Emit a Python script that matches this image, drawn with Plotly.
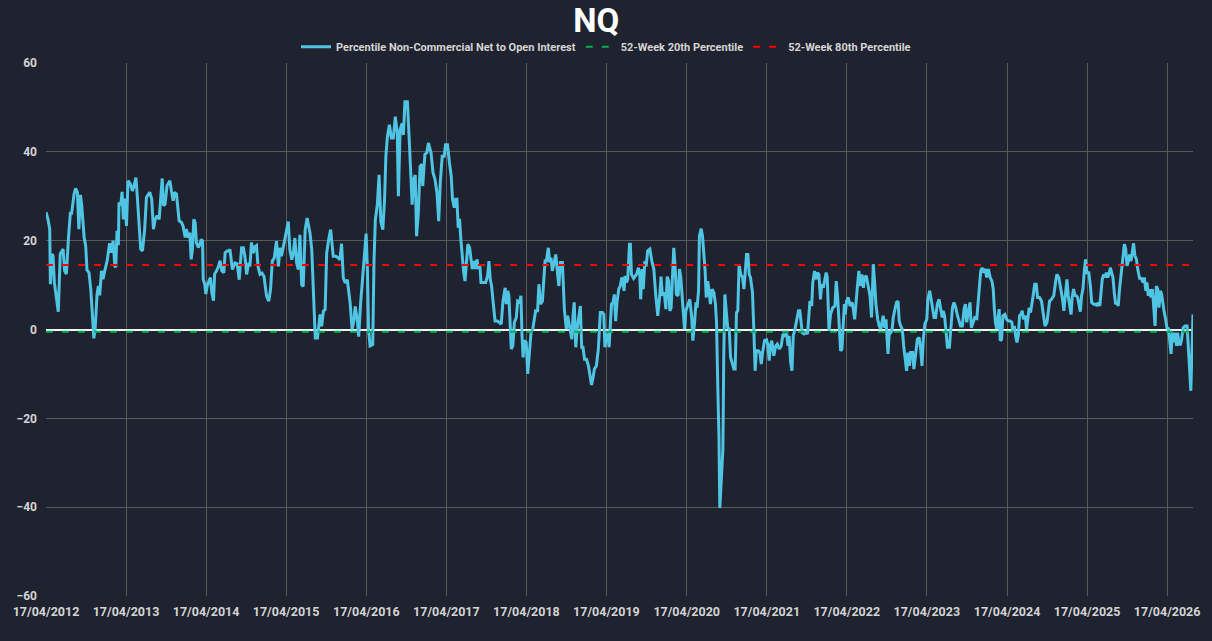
import numpy as np
import pandas as pd
import plotly.graph_objects as go

# weekly COT series, x = weeks since first report
start_date = "2012-04-17"

weeks = [
    0, 1.3, 2.4, 2.8, 3.9, 4.6, 5.4, 6.7, 8.0, 9.3, 11.1, 12.2, 13.3, 14.6, 15.9, 16.7,
    18.3, 19.3, 20.4, 21.5, 22.4, 23.3, 24.8, 25.9, 26.7, 28.0, 29.1, 30.2, 31.1, 32.0,
    33.3, 34.1, 35.0, 36.1, 37.2, 38.3, 39.8, 41.5, 42.6, 43.7, 44.8, 45.4, 46.3, 47.2,
    47.6, 48.7, 49.6, 50.4, 51.3, 52.4, 53.5, 55.0, 56.3, 57.4, 58.5, 59.3, 60.7, 61.7,
    62.8, 64.3, 65.4, 67.6, 68.9, 70.0, 71.1, 72.4, 73.7, 74.8, 75.7, 76.5, 77.6, 78.9,
    80.7, 81.7, 82.8, 83.7, 85.0, 86.7, 88.3, 89.3, 90.7, 91.5, 92.8, 93.7, 94.6, 95.4,
    96.3, 97.2, 98.0, 99.1, 100.2, 101.1, 102.0, 102.4, 103.5, 104.1, 105.0, 106.3,
    107.2, 108.0, 109.1, 109.8, 111.1, 112.4, 113.5, 114.6, 115.9, 116.7, 118.0, 119.1,
    119.8, 121.5, 123.1, 124.6, 125.9, 127.4, 128.5, 129.6, 130.7, 132.0, 132.8, 133.9,
    135.0, 136.3, 137.2, 138.1, 139.4, 140.7, 142.0, 143.7, 145.2, 146.3, 147.4, 148.7,
    150.2, 151.5, 152.4, 153.5, 154.6, 156.3, 157.8, 158.9, 160.2, 161.1, 162.2, 163.3,
    164.4, 165.5, 166.5, 167.6, 168.9, 170.2, 172.0, 173.1, 174.1, 175.5, 176.8, 178.5,
    179.6, 180.7, 181.8, 182.8, 184.1, 185.5, 187.2, 188.9, 190.5, 191.5, 192.6, 193.7,
    194.8, 196.3, 198.1, 199.4, 200.7, 201.5, 202.8, 203.7, 205.0, 206.8, 207.8, 208.5,
    209.4, 210.2, 211.1, 212.8, 213.7, 214.6, 215.9, 217.0, 218.1, 219.4, 220.5, 221.5,
    222.4, 223.7, 225.0, 226.3, 227.6, 228.9, 229.6, 230.7, 232.0, 232.8, 233.9, 235.5,
    236.8, 237.6, 238.5, 239.4, 240.5, 241.5, 242.6, 243.7,
    244.9, 245.5, 246.8, 248.1, 249.2, 250.8, 252.1, 253.4, 254.7, 255.8, 256.8, 258.1,
    259.5, 260.3, 261.6, 262.9, 264.0, 264.9, 266.0, 266.8, 267.7, 268.6, 269.5, 270.3,
    271.2, 272.1, 273.0, 273.8, 274.9, 276.0, 276.8, 277.7, 279.0, 279.9, 280.8, 281.6,
    282.5, 283.4, 285.1, 286.4, 287.7, 288.6, 289.5, 290.3, 291.6, 292.5, 294.2, 295.5,
    296.6, 297.7, 299.2, 299.9, 300.8, 301.6, 302.5, 303.1, 304.2, 305.1, 306.4, 307.3,
    308.6, 309.5, 310.1, 310.8, 311.6, 312.9, 313.8, 314.9, 316.0, 317.1, 318.1, 319.0,
    320.3, 321.2, 322.1, 323.4, 324.2, 325.1, 326.0, 327.3, 328.2, 329.0, 329.9, 330.8,
    332.1, 333.4, 334.2, 335.1, 336.4, 337.7, 339.0, 339.9, 341.2, 342.5, 343.4, 344.2,
    345.1, 346.0, 347.3, 348.1, 349.0, 349.9, 350.8, 352.1, 353.4, 354.7, 355.5, 356.4,
    357.3, 358.6, 359.9, 361.2, 362.5, 363.4, 364.2, 365.1, 366.0, 366.8,
    368.4, 369.4, 370.3, 371.2, 372.0, 373.1, 374.2, 375.1, 376.0, 376.6, 377.3, 378.1,
    379.0, 380.1, 380.7, 381.4, 382.9, 384.7, 386.0, 386.8, 387.5, 388.4, 389.2, 390.1,
    391.0, 392.0, 393.4, 394.7, 396.0, 397.3, 398.6, 399.9, 400.7, 401.6, 402.9, 403.8,
    404.7, 405.7, 406.4, 407.3, 408.1, 409.0, 409.9, 410.7, 411.8, 412.7, 413.6, 414.4,
    415.1, 416.0, 416.8, 418.1, 419.4, 420.7, 421.4, 422.5, 423.4, 424.2, 425.1, 425.7,
    426.8, 427.7, 428.6, 429.4, 430.1, 431.2, 432.0, 432.9, 434.0, 435.1, 436.2, 436.8,
    437.7, 438.4, 439.0, 439.9, 441.0, 441.6, 442.3, 443.4, 444.2, 445.1, 446.0, 447.3,
    448.1, 449.0, 449.9, 450.7, 451.6, 452.5, 453.8, 454.7, 455.5, 456.4, 457.3, 458.1,
    459.0, 460.3, 461.2, 462.0, 462.9, 464.2, 465.1, 466.0, 466.8, 468.1, 469.4, 470.3,
    471.2, 472.0, 472.9, 474.2, 475.5, 476.4, 477.7, 479.0, 480.1, 481.2, 482.5, 483.4,
    484.2, 485.1, 486.0, 486.8, 487.7, 489.0, 490.3, 491.2,
    492.7, 493.8, 495.1, 496.2, 497.0, 497.7, 498.8, 499.6, 500.7, 501.6, 502.5, 503.6,
    504.6, 505.5, 506.4, 507.3, 508.3, 509.0, 510.1, 511.2, 512.5, 514.0, 514.9, 515.9,
    516.8, 517.7, 518.6, 519.4, 520.1, 520.7, 521.6, 522.7, 523.8, 525.1, 525.9, 526.8,
    527.7, 528.6, 529.6, 530.7, 531.6, 532.5, 533.3, 534.4, 535.5, 536.8, 537.9, 539.0,
    539.9, 540.7, 541.8, 542.9, 543.8, 544.6, 545.5, 546.4, 547.3, 547.9, 548.6, 549.4,
    550.3, 551.2, 552.0, 553.1, 554.2, 555.1, 555.9, 556.8, 557.9, 559.0, 559.9, 560.7,
    561.6, 562.5, 563.3, 564.6, 565.5, 566.6, 567.7, 568.8, 569.9, 570.7, 571.6, 572.5,
    573.8, 574.6, 575.7, 576.8, 577.7, 578.6, 579.6, 580.7, 581.8, 582.9, 583.8, 584.6,
    585.5, 586.4, 587.3, 588.6, 589.4, 590.5, 591.6, 592.7, 593.8, 594.9, 595.9, 597.0,
    598.1, 599.0, 599.9, 600.9, 602.0, 602.9, 604.2, 605.1, 606.4, 607.7, 609.0, 609.9,
    610.7, 612.0, 612.9, 614.0, 615.1,
    616.3, 617.1, 617.8, 618.6, 619.5, 620.4, 621.0, 621.7, 622.6, 623.4, 624.7, 625.8,
    626.9, 628.2, 629.3, 629.9, 630.8, 631.7, 632.6, 633.4, 634.3, 635.2, 636.0, 636.9,
    638.0, 638.9, 639.7, 640.6, 641.5, 642.3, 643.2, 644.1, 645.2, 646.0, 647.3, 648.6,
    649.9, 650.8, 652.1, 653.0, 653.9, 655.2, 656.5, 657.8, 658.6, 659.9, 661.3, 662.3,
    663.2, 664.3, 665.2, 666.0, 666.9, 667.8, 668.6, 669.5, 670.4, 671.3, 672.1, 673.2,
    673.9, 674.7, 675.6, 676.5, 677.3, 678.2, 679.5, 680.4, 681.3, 682.6, 683.9, 684.7,
    685.6, 686.5, 687.3, 688.2, 689.1, 689.9, 690.8, 691.7, 692.6, 693.4, 694.3, 695.2,
    696.0, 696.9, 697.8, 698.6, 699.5, 700.4, 701.3, 702.6, 703.4, 704.3, 705.2, 706.0,
    706.9, 707.8, 708.6, 709.5, 710.4, 711.3, 712.6, 713.4, 714.7, 715.6, 716.5, 717.3,
    718.2, 719.1, 719.9, 720.8, 721.7, 722.6, 723.4, 724.3, 725.2, 726.0, 726.9, 727.8,
    728.6, 729.5, 730.4, 731.3, 732.1, 733.0, 733.9, 734.7, 735.6, 736.5, 737.3, 738.2,
    739.1, 739.9, 740.8, 742.1, 743.4, 744.3, 745.2, 745.8, 746.7, 747.3,
]

net_oi_pct = [
    26.4, 24.8, 22.6, 10.2, 17.0, 16.6, 10.6, 7.6, 4.0, 17.0, 18.1, 13.2, 12.5, 20.3, 26.2, 26.2,
    30.5, 31.8, 30.9, 22.6, 30.3, 27.9, 20.7, 18.8, 13.4, 12.8, 9.1, 3.8, -2.0, 0.1,
    8.0, 9.8, 7.7, 13.2, 11.3, 13.2, 15.5, 19.4, 17.3, 20.0, 14.3, 14.0, 22.2, 19.0,
    28.6, 28.0, 31.0, 24.8, 29.5, 23.3, 33.5, 32.7, 31.2, 32.4, 34.2, 30.9, 21.8, 18.1,
    17.7, 22.6, 29.7, 30.9, 29.4, 22.6, 24.8, 25.6, 24.8, 29.7, 34.0, 27.9, 28.2, 32.4,
    33.5, 31.2, 29.0, 30.9, 30.5, 24.5, 24.1, 23.3, 20.7, 22.6, 20.7, 21.8, 15.8, 18.1,
    24.8, 24.1, 19.6, 18.5, 19.0, 20.3, 19.9, 11.3, 10.2, 8.0, 9.8, 11.0,
    11.7, 8.3, 6.5, 12.5, 13.2, 14.3, 15.5, 13.2, 12.8, 17.3, 17.7, 17.7,
    18.0, 13.5, 15.0, 14.8, 11.2, 18.4, 18.4, 16.5, 12.4, 15.0, 14.2, 19.6,
    17.2, 18.7, 18.9, 14.2, 12.4, 12.7, 12.0, 7.5, 6.4, 9.0, 15.4, 16.1,
    19.9, 14.2, 18.4, 16.5, 18.4, 21.0, 24.3, 18.0, 15.7, 17.2, 20.6, 15.0,
    13.5, 21.3, 10.1, 9.7, 22.5, 25.1, 21.7, 18.0, 9.4, -1.9, -1.9, 3.4,
    0.7, 4.1, 4.5, 17.2, 20.2, 22.5, 16.5, 16.5, 16.1, 15.7, 19.3, 11.6,
    10.5, 11.2, 6.0, 0.0, 2.2, 5.2, 2.2, -1.6, 6.0, 13.5, 18.7, 21.6,
    13.1, 0.0, -3.7, -3.4, 15.7, 24.7, 28.1, 34.8, 24.3, 22.5, 29.2, 39.0,
    43.4, 46.1, 43.1, 43.1, 47.9, 44.2, 30.0, 45.0, 46.4, 43.8, 51.3, 51.3,
    41.2, 36.0, 28.1, 33.7, 34.8, 21.0, 26.2, 36.7,
    37.2, 32.3, 39.4, 39.8, 42.0, 39.8, 35.3, 33.8, 30.8, 24.4, 33.0, 39.0,
    39.0, 41.6, 41.6, 37.5, 34.5, 29.3, 27.4, 29.3, 29.3, 22.9, 24.9, 20.3,
    15.8, 12.8, 10.9, 15.4, 19.2, 18.4, 15.4, 13.6, 15.4, 13.6, 15.8, 13.6,
    14.7, 10.6, 10.6, 10.6, 12.1, 15.4, 11.3, 9.8, 5.3, 1.9, 1.9, 1.6,
    1.2, 6.4, 9.4, 5.7, 8.7, 7.6, -0.7, -4.4, -3.7, 1.6, 2.7, 6.4,
    6.1, 7.6, -1.4, -6.3, -2.5, -2.9, -10.0, -4.4, -0.7, 0.1, 2.3, 4.2,
    4.2, 10.2, 5.7, 6.4, 10.2, 15.4, 15.4, 18.4, 15.1, 16.2, 13.2, 15.1,
    16.9, 12.1, 9.8, 15.1, 15.1, 4.6, 0.1, 3.1, 0.1, -2.2, 3.4, 6.1,
    -4.0, 0.1, 3.1, 5.3, -4.0, -4.0, -6.7, -6.7, -8.2, -11.5, -12.5, -10.8,
    -8.9, -8.2, -4.4, 3.8, 3.8, 3.4, -4.0, -1.4, -1.0, -4.0,
    5.7, 6.1, 7.9, 1.9, 6.1, 9.1, 9.8, 11.7, 10.9, 8.7, 12.1, 10.6,
    11.3, 19.2, 19.2, 12.4, 11.5, 12.4, 13.9, 12.1, 6.8, 13.6, 9.1, 15.4,
    14.2, 17.7, 18.1, 15.4, 13.6, 7.6, 3.1, 7.6, 11.9, 7.6, 8.3, 4.6,
    11.9, 10.9, 4.2, 4.9, 12.1, 18.4, 14.3, 7.9, 7.6, 13.6, 11.7, 7.6,
    4.9, 0.1, 4.2, 5.7, 6.8, 2.7, -2.5, 1.6, 6.1, 4.9, 8.7, 21.0,
    22.7, 21.0, 16.9, 13.2, 7.2, 10.9, 8.7, 5.7, 9.1, 8.3, 5.7, 1.6,
    -13.4, -23.9, -40.2, -33.6, -26.9, -5.9, 7.9, 3.1, 0.4, 0.1, -6.3, -7.8,
    -8.9, -8.9, 3.8, 4.2, 14.7, 12.4, 11.7, 9.1, 12.4, 16.9, 16.9, 12.4,
    11.7, 8.3, 0.1, -9.3, -4.8, -4.8, -5.2, -7.8, -5.2, -2.5, -2.3, -3.3,
    -7.0, -3.7, -2.5, -5.9, -3.7, -3.3, -4.4, -3.7, -1.0, -1.4, -1.0, -3.7,
    -1.4, -7.4, -9.3, -1.4, -0.3, 2.3, 4.2, 4.2,
    -0.7, -1.0, -0.7, -1.0, 3.1, 6.4, 5.3, 10.6, 13.2, 11.3, 12.8, 12.4,
    6.8, 10.2, 9.4, 10.9, 12.8, 11.7, -0.3, 3.4, 4.9, 5.3, 10.9, 6.8,
    -0.7, -4.8, -4.4, 0.8, 5.7, 3.4, 6.4, 7.2, 5.3, 6.1, 4.9, 2.3,
    7.2, 9.4, 13.2, 9.8, 12.4, 9.4, 11.7, 12.1, 10.2, 7.6, 2.7, 14.7,
    10.6, 5.7, 2.3, 0.8, 0.1, 1.6, 3.1, 0.4, 2.3, -1.4, -5.5, -0.3,
    -0.7, -0.3, 2.7, 4.6, 6.1, 6.4, 1.9, 0.8, 0.1, -4.4, -7.4, -9.3,
    -5.2, -8.2, -5.2, -5.2, -8.9, -5.2, -2.2, -1.8, -4.4, -8.2, -2.2, 1.2,
    2.3, 6.8, 8.7, 6.4, 4.2, 2.7, 2.7, 5.7, 6.8, 4.9, 2.7, 4.2,
    3.1, -0.7, -4.0, -4.0, 0.8, 4.9, 6.1, 4.9, 3.1, 1.6, 0.8, 0.8,
    4.6, 5.7, 1.6, 3.8, 6.1, 0.4, 1.6, 2.7, 2.5, 7.6, 13.2, 13.9,
    12.8, 13.6, 11.7, 13.6, 11.7,
    10.9, 9.1, 4.6, 1.6, 0.1, 4.2, 4.6, -2.5, -2.2, 3.1, 3.4, 2.3,
    1.9, 1.9, 1.6, -0.3, 0.8, -1.4, -2.9, -1.4, 3.1, 3.4, 4.2, 2.3,
    3.1, 0.1, 3.1, 4.9, 3.8, 5.3, 7.6, 10.2, 10.2, 7.2, 7.2, 6.4,
    3.8, 0.8, 1.6, 3.8, 6.4, 6.8, 7.6, 10.9, 12.4, 11.7, 9.1, 6.8,
    4.2, 9.1, 11.3, 7.6, 5.7, 3.4, 7.2, 9.1, 7.7, 7.6, 7.2, 5.7,
    4.0, 7.6, 9.1, 13.6, 15.8, 12.8, 12.8, 9.8, 6.1, 5.7, 5.7, 5.3,
    6.1, 5.3, 7.9, 11.3, 12.4, 11.7, 12.8, 11.7, 12.4, 13.9, 12.8, 11.7,
    8.3, 5.7, 6.1, 5.3, 9.1, 12.1, 14.7, 19.2, 18.1, 14.3, 15.4, 16.9,
    15.4, 17.7, 19.4, 16.6, 15.8, 13.6, 11.3, 11.7, 10.6, 11.7, 8.7, 10.6,
    7.6, 9.1, 7.2, 9.1, 4.6, 0.8, 9.8, 9.1, 4.9, 8.7, 7.9, 4.6,
    3.8, 2.3, 0.1, 0.4, -2.9, -5.5, -0.7, -2.9, -0.7, -3.7, -0.7, -3.3,
    -3.3, -2.2, 0.4, 0.8, 0.8, -3.3, -9.3, -13.8, -5.2, 3.4,
]

pct20_level = -0.5
pct80_level = 14.5

tick_years = list(range(2012, 2027))
y_ticks = [-60, -40, -20, 0, 20, 40, 60]

# build the dates
t0 = pd.Timestamp(start_date)
dates = t0 + pd.to_timedelta(np.round(np.array(weeks) * 7), unit="D")
edges = [dates[0], dates[-1]]
tick_dates = [pd.Timestamp(f"{y}-04-17") for y in tick_years]
tick_text = [d.strftime("%d/%m/%Y") for d in tick_dates]

bg = "#1f232f"
grid = "#5a5a5a"
txt = "#d4d4d4"

fig = go.Figure()
fig.add_trace(go.Scatter(
    x=dates, y=net_oi_pct, mode="lines",
    name="Percentile Non-Commercial Net to Open Interest",
    line=dict(color="#4fc4e3", width=3),
))
fig.add_trace(go.Scatter(
    x=edges, y=[pct20_level] * 2, mode="lines",
    name="52-Week 20th Percentile",
    line=dict(color="#00b050", width=2, dash="7px,9px"),
))
fig.add_trace(go.Scatter(
    x=edges, y=[pct80_level] * 2, mode="lines",
    name="52-Week 80th Percentile",
    line=dict(color="#ff0000", width=2, dash="7px,9px"),
))

fig.update_layout(
    width=1212, height=641,
    paper_bgcolor=bg, plot_bgcolor=bg,
    margin=dict(l=46, r=19, t=63, b=45, autoexpand=False),
    title=dict(text="NQ", x=0.492, xanchor="center", y=0.968, yanchor="middle",
               font=dict(family="Roboto", size=33, color="white", weight="bold")),
    legend=dict(orientation="h", xref="container", x=0.5, xanchor="center",
                yref="container", y=0.927, yanchor="middle",
                font=dict(family="Roboto", size=11, color=txt, weight="bold"),
                bgcolor="rgba(0,0,0,0)"),
    showlegend=True,
)
fig.update_xaxes(
    type="date", range=edges,
    tickvals=tick_dates, ticktext=tick_text,
    showgrid=True, gridcolor=grid, gridwidth=1,
    showline=False, zeroline=False, ticks="", ticklabelstandoff=6,
    tickfont=dict(family="Roboto", size=12.5, color=txt, weight="bold"),
)
fig.update_yaxes(
    range=[-60, 60], tickvals=y_ticks,
    showgrid=True, gridcolor=grid, gridwidth=1,
    zeroline=True, zerolinecolor="#f2f2f2", zerolinewidth=1.5,
    showline=False, ticks="", ticklabelstandoff=8,
    tickfont=dict(family="Roboto", size=12, color=txt, weight="bold"),
)

# drop the default page margin so the figure sits at the window corner
fig.write_html(
    "out.html",
    config={"displayModeBar": False},
    post_script="document.body.style.margin='0';document.body.style.overflow='hidden';",
)
